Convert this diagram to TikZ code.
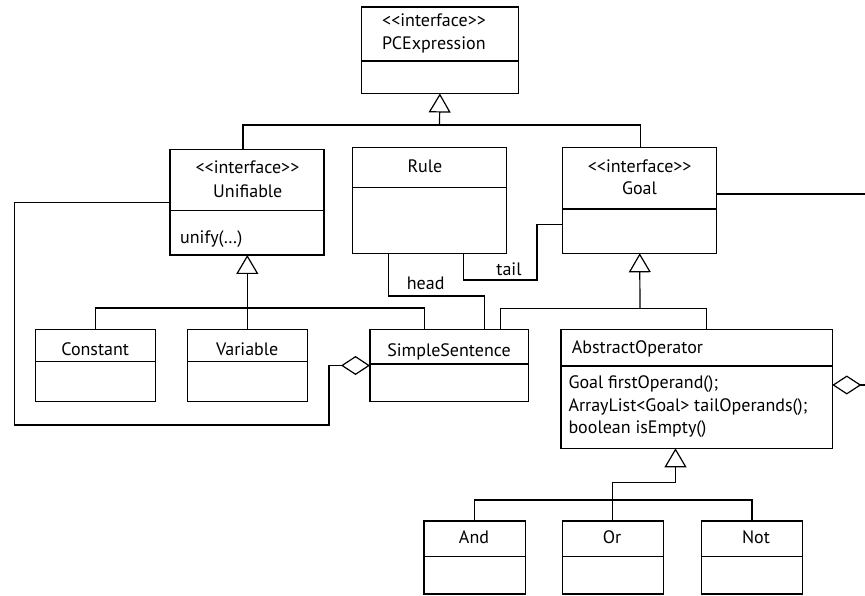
\documentclass[tikz,border=0pt]{standalone}
\usepackage{fontspec}
\newfontfamily\umlfont{PT Sans}
\usetikzlibrary{arrows.meta}
\newcommand{\umlcls}[6]{%
  \node[cls, minimum width={(#4-#2)*1pt}, minimum height={(#5-#3)*1pt}] (#1) at (#2,#3) {};
  \draw[ln] (#2,#6) -- (#4,#6);
}
\begin{document}
\begin{tikzpicture}[x=1pt,y=-1pt,
  ln/.style={line width=1.2pt, line join=miter},
  cls/.style={ln, draw, inner sep=0pt, outer sep=0pt, anchor=north west},
  txt/.style={inner sep=0pt, font=\umlfont\fontsize{18}{21}\selectfont},
  gen/.style={ln, -{Triangle[open,length=19pt,width=22pt]}},
  agg/.style={ln, -{Diamond[open,length=29pt,width=19pt]}},
]
\useasboundingbox (0,0) rectangle (865,596);
\clip (0,0) rectangle (865,596);

% classes
\umlcls{pce}{361.5}{7}{518.3}{93.5}{61}
\umlcls{unif}{170}{149.3}{324}{255}{210.7}
\umlcls{rule}{352.7}{147.3}{506.7}{253.3}{187.3}
\umlcls{goal}{562.7}{147.3}{716.7}{253.3}{209}
\umlcls{const}{35.7}{329.3}{155.7}{401.5}{361.7}
\umlcls{var}{187.3}{329.3}{307.3}{401.5}{361.7}
\umlcls{ss}{370}{329.3}{528.7}{401.7}{364}
\umlcls{ao}{561}{329.3}{832.3}{448.3}{366}
\umlcls{and}{424}{521}{525.7}{594}{556.7}
\umlcls{or}{562.3}{521}{663.3}{594}{556.7}
\umlcls{not}{701.7}{521}{802.3}{594}{556.7}

% texts
\node[txt, anchor=base west] (pceS) at (382,26.7) {<\kern0pt<interface>\kern0pt>};
\node[txt, anchor=base west] (pceN) at (382,50) {PCExpression};
\node[txt, anchor=base] (unifS) at (247.5,173.3) {<\kern0pt<interface>\kern0pt>};
\node[txt, anchor=base] (unifN) at (247.8,197.3) {Unifiable};
\node[txt, anchor=base west] (unifM) at (180,243.5) {unify(…)};
\node[txt, anchor=base] (ruleN) at (425,172.3) {Rule};
\node[txt, anchor=base] (goalS) at (639.7,172.7) {<\kern0pt<interface>\kern0pt>};
\node[txt, anchor=base] (goalN) at (639.5,195) {Goal};
\node[txt, anchor=base] (constN) at (95.2,355.7) {Constant};
\node[txt, anchor=base] (varN) at (247.2,355.7) {Variable};
\node[txt, anchor=base] (ssN) at (449,356) {SimpleSentence};
\node[txt, anchor=base west] (aoN) at (571.7,353.3) {AbstractOperator};
\node[txt, anchor=base west] (aoM1) at (568.3,388.3) {Goal firstOperand();};
\node[txt, anchor=base west] (aoM2) at (568.3,411.7) {ArrayList<Goal> tailOperands();};
\node[txt, anchor=base west] (aoM3) at (568.3,433.3) {boolean isEmpty()};
\node[txt, anchor=base] (andN) at (474,543.3) {And};
\node[txt, anchor=base] (orN) at (612,543.3) {Or};
\node[txt, anchor=base] (notN) at (756,543.3) {Not};

% generalizations
\coordinate (j1) at (439.5,125);
\draw[gen] (j1) -- (pce.south);
\draw[ln] ([xshift=-4pt]unif.north) |- (j1) -| ([xshift=1pt]goal.north);

\coordinate (j2) at (247,308);
\draw[gen] (var.north) -- (var.north |- unif.south);
\draw[ln] (const.north) |- (j2) -| ([xshift=-25pt]ss.north);

\coordinate (j3) at (640,308.3);
\draw[gen] (j3) -- (goal.south);
\draw[ln] ([xshift=51pt]ss.north) |- (j3) -| ([xshift=10pt]ao.north);

\coordinate (j4) at (675.5,482.3);
\coordinate (j5) at (612.8,500);
\draw[gen] (j4) -- (j4 |- ao.south);
\draw[ln] (or.north) |- (j4);
\draw[ln] (and.north) |- (j5) -| (not.north);

% head / tail associations
\coordinate (h1) at (484.3,296);
\draw[ln] ([xshift=-41.4pt]rule.south) |- (h1) -- (h1 |- ss.north);
\node[txt, anchor=base] (headL) at (425.7,289) {head};
\coordinate (t1) at (537,280);
\draw[ln] ([xshift=33.6pt]rule.south) |- (t1) |- ([yshift=-24.2pt]goal.west);
\node[txt, anchor=base] (tailL) at (509,276) {tail};

% aggregations
\coordinate (a1) at (14.3,425);
\coordinate (a2) at (329,425);
\draw[agg] (unif.west) -| (a1) -- (a2) |- (ss.west);

\coordinate (b1) at (870,194);
\draw[agg] ([yshift=6.3pt]goal.east) -- (b1) |- ([yshift=3.8pt]ao.east);
\end{tikzpicture}
\end{document}
